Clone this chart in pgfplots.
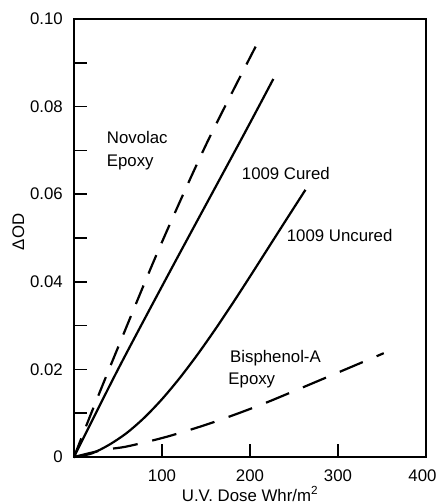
\documentclass[border=0pt]{standalone}
\usepackage{fontspec}
\setmainfont{Liberation Sans}
\usepackage{pgfplots}
\pgfplotsset{compat=1.18}
\begin{document}
\fontsize{16.8}{20}\selectfont
\begin{tikzpicture}
\begin{axis}[
  scale only axis, width=352pt, height=438pt,
  xmin=0, xmax=400, ymin=0, ymax=0.10,
  xtick={100,200,300,400}, xticklabels={100,200,300,400\kern7pt},
  ytick={0,0.02,0.04,0.06,0.08,0.10}, yticklabels={0,0.02,0.04,0.06,0.08,0.10},
  minor ytick={0.01,0.03,0.05,0.07,0.09},
  scaled y ticks=false,
  tick align=inside, xtick pos=bottom, ytick pos=left,
  major tick length=13pt, minor tick length=13pt,
  every tick/.style={black, line width=1.6pt},
  axis line style={line width=2pt},
  yticklabel style={anchor=east, inner sep=0pt, xshift=-11pt},
  xticklabel style={anchor=north, inner sep=0pt, yshift=-13pt},
  xlabel={U.V. Dose Whr/m\textsuperscript{2}},
  ylabel={ΔOD},
  xlabel style={at={(axis description cs:0.5,-0.1005)}, anchor=base, inner sep=0pt},
  ylabel style={at={(axis description cs:-0.142,0.514)}, anchor=base, inner sep=0pt},
  clip=false,
]
% Novolac Epoxy
\addplot[black, line width=2.2pt, dash pattern=on 20pt off 13pt, smooth] coordinates {
  (0,0) (20,0.0102) (50,0.0250) (97,0.0477) (151,0.0717) (209,0.0947)
};
% 1009 Cured
\addplot[black, line width=2.2pt, smooth] coordinates {
  (0,0) (50,0.0200) (111,0.0431) (190,0.0725) (226.5,0.0863)
};
% 1009 Uncured
\addplot[black, line width=2.2pt, smooth] coordinates {
  (0,0) (20,0.0008) (40,0.0028) (60,0.0055) (80,0.0090) (100,0.0132) (120,0.0180)
  (140,0.0233) (160,0.0290) (180,0.0350) (200,0.0412) (220,0.0475) (240,0.0538) (263,0.0610)
};
% Bisphenol-A Epoxy
\addplot[black, line width=2.2pt, dash pattern=on 25pt off 15pt, smooth] coordinates {
  (0,0) (33,0.0016) (60,0.0024) (105,0.0046) (155,0.0077) (207,0.0115) (253,0.0153) (352,0.0237)
};
\node[anchor=base west, inner sep=0pt] at (axis cs:37.2,0.0715) {Novolac};
\node[anchor=base west, inner sep=0pt] at (axis cs:37.2,0.0663) {Epoxy};
\node[anchor=base west, inner sep=0pt] at (axis cs:190.6,0.0633) {1009 Cured};
\node[anchor=base west, inner sep=0pt] at (axis cs:241.7,0.0492) {1009 Uncured};
\node[anchor=base west, inner sep=0pt] at (axis cs:177.3,0.02165) {Bisphenol-A};
\node[anchor=base west, inner sep=0pt] at (axis cs:175.3,0.01646) {Epoxy};
\end{axis}
\pgfresetboundingbox
\path[use as bounding box] (-74pt,-47pt) rectangle (364pt,457pt);
\end{tikzpicture}
\end{document}
